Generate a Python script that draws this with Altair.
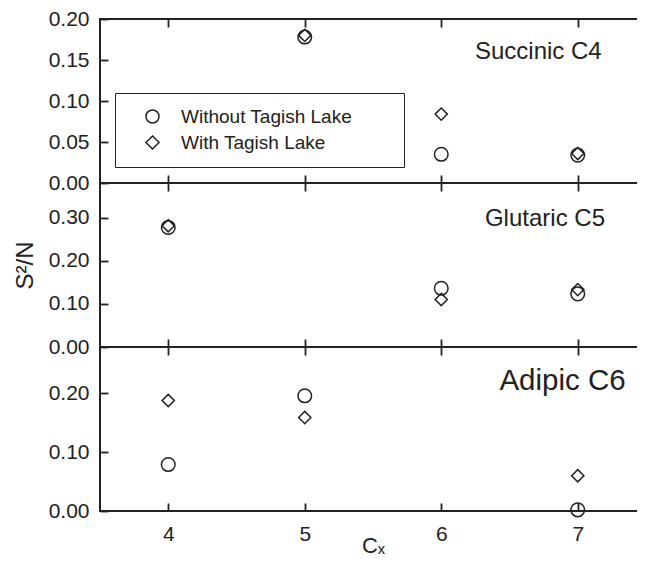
import altair as alt
import pandas as pd

# ---- data ----
cx = [4, 5, 6, 7]
series = ["Without Tagish Lake", "With Tagish Lake"]

succinic_without = [None, 0.178, 0.035, 0.034]
succinic_with = [None, 0.180, 0.084, 0.036]
glutaric_without = [0.277, None, 0.136, 0.123]
glutaric_with = [0.281, None, 0.110, 0.133]
adipic_without = [0.079, 0.196, None, 0.002]
adipic_with = [0.188, 0.159, None, 0.060]

panel_names = ["Succinic C4", "Glutaric C5", "Adipic C6"]
y_ticks = [[0.0, 0.05, 0.10, 0.15, 0.20], [0.0, 0.1, 0.2, 0.3], [0.0, 0.1, 0.2]]
y_domains = [[0, 0.2], [0, 0.38], [0, 0.279]]
x_domain = [3.5, 7.5]

INK = "#222222"
FONT = "Liberation Sans"
W, H = 546, 164


def frame(without, with_):
    rows = []
    for x, a, b in zip(cx, without, with_):
        if a is not None:
            rows.append({"cx": x, "value": a, "series": series[0]})
        if b is not None:
            rows.append({"cx": x, "value": b, "series": series[1]})
    return pd.DataFrame(rows)


shape_scale = alt.Scale(domain=series, range=["circle", "diamond"])
legend = alt.Legend(
    title="\u00a0", titleOrient="right", titlePadding=38, titleFontSize=19,
    orient="none", legendX=15, legendY=74,
    fillColor="white", strokeColor=INK,
    padding=14, symbolOffset=14, labelOffset=19, rowPadding=5,
    labelFont=FONT, labelFontSize=19, labelColor=INK, labelLimit=400,
    symbolSize=170, symbolStrokeWidth=1.5, symbolStrokeColor=INK,
)

no_domain = dict(domain=False, domainOpacity=0, grid=False)


def panel(df, name, ydom, yt, tfont, tx, ty, first, last, mid):
    xs = alt.Scale(domain=x_domain, nice=False, zero=False)
    ys = alt.Scale(domain=ydom, nice=False, zero=False)
    left_kw = dict(orient="left", values=yt, format=".2f", offset=-8, tickSize=8,
                   labelPadding=11, **no_domain)
    if mid:
        left_kw.update(title="S\u00b2/N", titleFontSize=24, titlePadding=11,
                       titleFont=FONT, titleColor=INK, titleFontWeight="normal")
    bottom_kw = dict(orient="bottom", values=cx, offset=-8, tickSize=8,
                     labels=last, labelPadding=12, format="d", **no_domain)
    if last:
        bottom_kw.update(title="C\u2093", titleFontSize=22, titlePadding=-9,
                         titleFont=FONT, titleColor=INK, titleFontWeight="normal")
    base = alt.Chart(df)
    lg = legend if first else None
    circles = base.transform_filter(alt.datum.series == series[0]).mark_point(
        filled=False, strokeWidth=1.5, color=INK, size=185, opacity=1
    ).encode(
        x=alt.X("cx:Q", scale=xs, axis=alt.Axis(**bottom_kw), title="C\u2093" if last else None),
        y=alt.Y("value:Q", scale=ys, axis=alt.Axis(**left_kw), title="S\u00b2/N" if mid else None),
        shape=alt.Shape("series:N", scale=shape_scale, legend=lg),
    )
    diamonds = base.transform_filter(alt.datum.series == series[1]).mark_point(
        filled=False, strokeWidth=1.5, color=INK, size=150, opacity=1
    ).encode(
        x=alt.X("cx:Q", scale=xs, title=None,
                axis=alt.Axis(orient="top", values=cx, offset=-8, tickSize=8,
                              labels=False, **no_domain)),
        y=alt.Y("value:Q", scale=ys, title=None,
                axis=alt.Axis(orient="right", values=yt, offset=-8, tickSize=8,
                              labels=False, **no_domain)),
        shape=alt.Shape("series:N", scale=shape_scale, legend=lg),
    )
    label = alt.Chart(pd.DataFrame({"name": [name]})).mark_text(
        align="right", baseline="alphabetic", font=FONT, fontSize=tfont, color=INK
    ).encode(text="name:N", x=alt.value(tx), y=alt.value(ty))
    return alt.layer(circles, diamonds, label).resolve_axis(
        x="independent", y="independent"
    ).properties(width=W, height=H)


p1 = panel(frame(succinic_without, succinic_with), panel_names[0], y_domains[0], y_ticks[0],
           24, 501.7, 39.7, True, False, False)
p2 = panel(frame(glutaric_without, glutaric_with), panel_names[1], y_domains[1], y_ticks[1],
           24, 505, 43, False, False, True)
p3 = panel(frame(adipic_without, adipic_with), panel_names[2], y_domains[2], y_ticks[2],
           29.5, 525.7, 43.3, False, True, False)

chart = alt.vconcat(p1, p2, p3, spacing=0, bounds="flush").properties(
    padding={"left": 4, "top": -1, "right": -11, "bottom": 3}
).configure(font=FONT).configure_view(
    stroke=INK, strokeWidth=2
).configure_axis(
    domain=False, grid=False, tickColor=INK, tickWidth=1.8,
    labelFont=FONT, labelFontSize=21, labelColor=INK
)

chart.save("out.html", embed_options={"renderer": "svg", "actions": False})
